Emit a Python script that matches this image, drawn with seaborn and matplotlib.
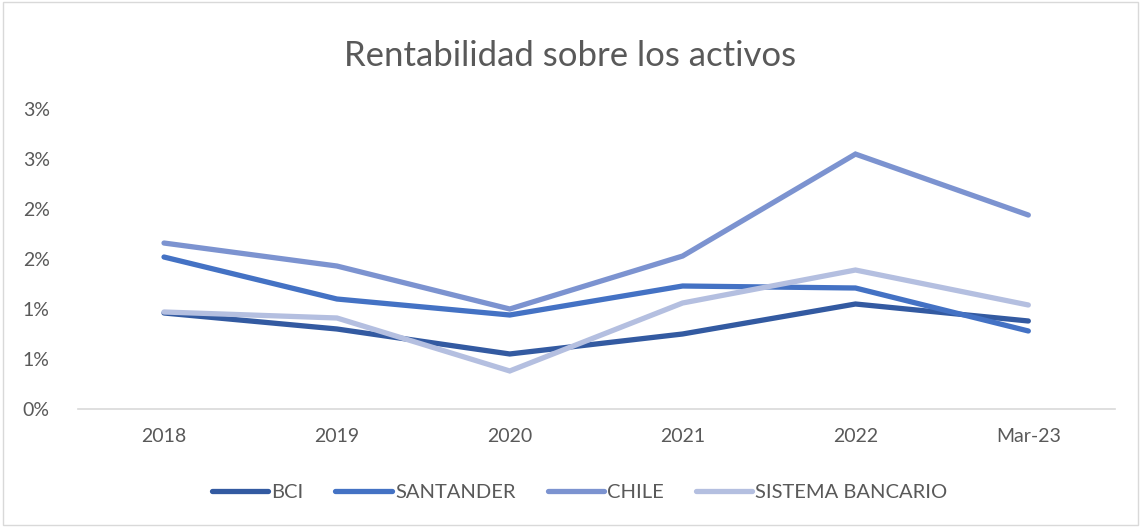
import math
import seaborn as sns
import pandas as pd
from matplotlib import pyplot as plt
from matplotlib import ticker as tick

# values in percent
years = ["2018", "2019", "2020", "2021", "2022", "Mar-23"]
bci = [0.96, 0.80, 0.55, 0.75, 1.05, 0.88]
santander = [1.52, 1.10, 0.94, 1.23, 1.21, 0.78]
chile = [1.66, 1.43, 1.00, 1.53, 2.55, 1.94]
sistema = [0.97, 0.91, 0.38, 1.06, 1.39, 1.04]

series_names = ["BCI", "SANTANDER", "CHILE", "SISTEMA BANCARIO"]
colors = ["#335AA1", "#4472C4", "#7C93D0", "#B4BFE0"]


def main():
    df = pd.DataFrame(
        {
            "Year": years * 4,
            "ROA": bci + santander + chile + sistema,
            "Serie": [n for n in series_names for _ in years],
        }
    )

    sns.set_style("white")
    plt.rcParams["font.family"] = ["Lato", "DejaVu Sans"]

    fig = plt.figure(figsize=(11.41, 5.27), dpi=100)
    ax = fig.add_axes([0.068, 0.224, 0.909, 0.569])
    g = sns.lineplot(
        data=df,
        x="Year",
        y="ROA",
        hue="Serie",
        palette=colors,
        linewidth=3.8,
        sort=False,
        ax=ax,
    )
    for line in g.lines:
        line.set_solid_capstyle("round")
        line.set_solid_joinstyle("miter")

    g.set_xlim(-0.5, 5.5)
    g.set_ylim(0, 3.0)
    g.set_yticks([0, 0.5, 1.0, 1.5, 2.0, 2.5, 3.0])
    # excel style rounding (half up)
    g.yaxis.set_major_formatter(tick.FuncFormatter(lambda v, p: f"{math.floor(v + 0.5)}%"))
    g.set_xlabel("")
    g.set_ylabel("")
    g.tick_params(axis="both", length=0, labelsize=14, labelcolor="#595959", pad=14)
    g.tick_params(axis="y", pad=20)
    for side in ["top", "right", "left"]:
        g.spines[side].set_visible(False)
    g.spines["bottom"].set_color("#D9D9D9")
    g.spines["bottom"].set_linewidth(1.2)

    fig.text(0.5, 0.893, "Rentabilidad sobre los activos", ha="center", va="center",
             fontsize=25, color="#595959")

    handles, labels = g.get_legend_handles_labels()
    g.legend_.remove()
    leg = fig.legend(
        handles, labels, loc="center", bbox_to_anchor=(0.508, 0.065), ncol=4,
        frameon=False, fontsize=14.5, handlelength=2.8, handletextpad=0.15,
        columnspacing=1.6,
    )
    for t in leg.get_texts():
        t.set_color("#595959")
    for h in leg.get_lines():
        h.set_solid_capstyle("round")

    border = plt.Rectangle((0.003, 0.003), 0.994, 0.994, transform=fig.transFigure,
                           fill=False, edgecolor="#D9D9D9", linewidth=1)
    fig.patches.append(border)

    fig.savefig("out.png", dpi=100)


if __name__ == "__main__":
    main()
